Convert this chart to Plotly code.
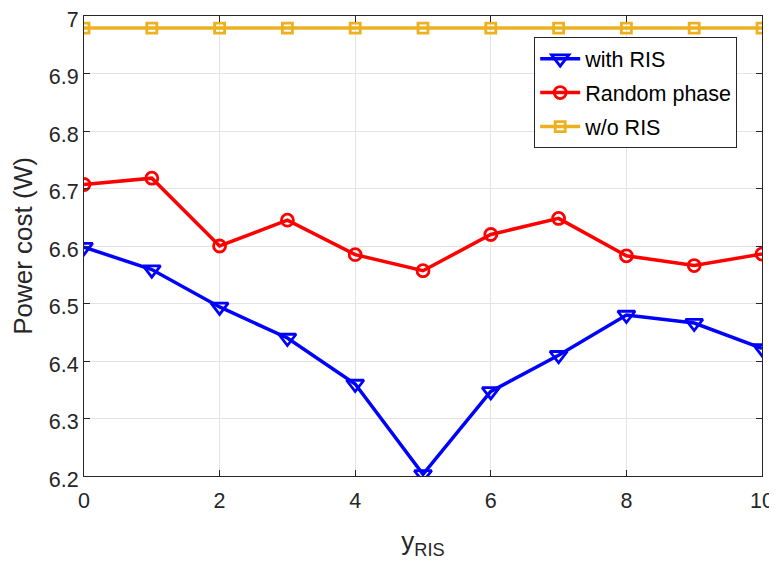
import plotly.graph_objects as go

x_ris = [0, 1, 2, 3, 4, 5, 6, 7, 8, 9, 10]
with_ris = [6.598, 6.559, 6.494, 6.440, 6.360, 6.203, 6.347, 6.410, 6.480, 6.466, 6.422]
random_phase = [6.707, 6.718, 6.600, 6.645, 6.585, 6.557, 6.620, 6.648, 6.583, 6.566, 6.586]
wo_ris = [6.979] * 11

FONT = "Liberation Sans, Arial, Helvetica, sans-serif"
fig = go.Figure()
fig.add_trace(go.Scatter(x=x_ris, y=with_ris, name="with RIS", mode="lines+markers",
                         legendgroup="a",
                         line=dict(color="#0000ff", width=3.5),
                         marker=dict(symbol="triangle-down-open", size=15, color="#0000ff",
                                     line=dict(width=2.8, color="#0000ff"))))
fig.add_trace(go.Scatter(x=x_ris, y=random_phase, name="Random phase", mode="lines+markers",
                         legendgroup="b",
                         line=dict(color="#ff0000", width=3.5),
                         marker=dict(symbol="circle-open", size=12, color="#ff0000",
                                     line=dict(width=2.8, color="#ff0000"))))
fig.add_trace(go.Scatter(x=x_ris, y=wo_ris, name="w/o RIS", mode="lines+markers",
                         legendgroup="c",
                         line=dict(color="#EDB120", width=3.5),
                         marker=dict(symbol="square-open", size=10, color="#EDB120",
                                     line=dict(width=2.8, color="#EDB120"))))

axis_common = dict(showline=True, mirror="ticks", linecolor="#262626", linewidth=1,
                   ticks="inside", ticklen=6, tickcolor="#262626", automargin=False,
                   ticklabeloverflow="allow",
                   showgrid=True, gridcolor="#e3e3e3", gridwidth=1, zeroline=False,
                   tickfont=dict(family=FONT, size=21.5, color="#262626"))
fig.update_xaxes(range=[0, 10], dtick=2, tick0=0, ticklabelstandoff=5,
                 title=dict(text="y<sub>RIS</sub>", font=dict(family=FONT, size=26, color="#262626"), standoff=20),
                 **axis_common)
fig.update_yaxes(range=[6.2, 7], dtick=0.1, tick0=6.2, ticklabelshift=3,
                 title=dict(text="Power cost (W)", font=dict(family=FONT, size=26, color="#262626"), standoff=9),
                 **axis_common)

# page body has an 8px default margin, so the figure is 8px smaller and shifted
fig.update_layout(width=769, height=555, margin=dict(l=76, r=15, t=8, b=87),
                  plot_bgcolor="white", paper_bgcolor="white",
                  font=dict(family=FONT, size=21, color="#262626"),
                  legend=dict(x=0.664, y=0.954, xanchor="left", yanchor="top",
                              bgcolor="white", bordercolor="#262626", borderwidth=1,
                              font=dict(family=FONT, size=21.5, color="#000000"),
                              tracegroupgap=3, itemwidth=40))
fig.write_html("out.html")
